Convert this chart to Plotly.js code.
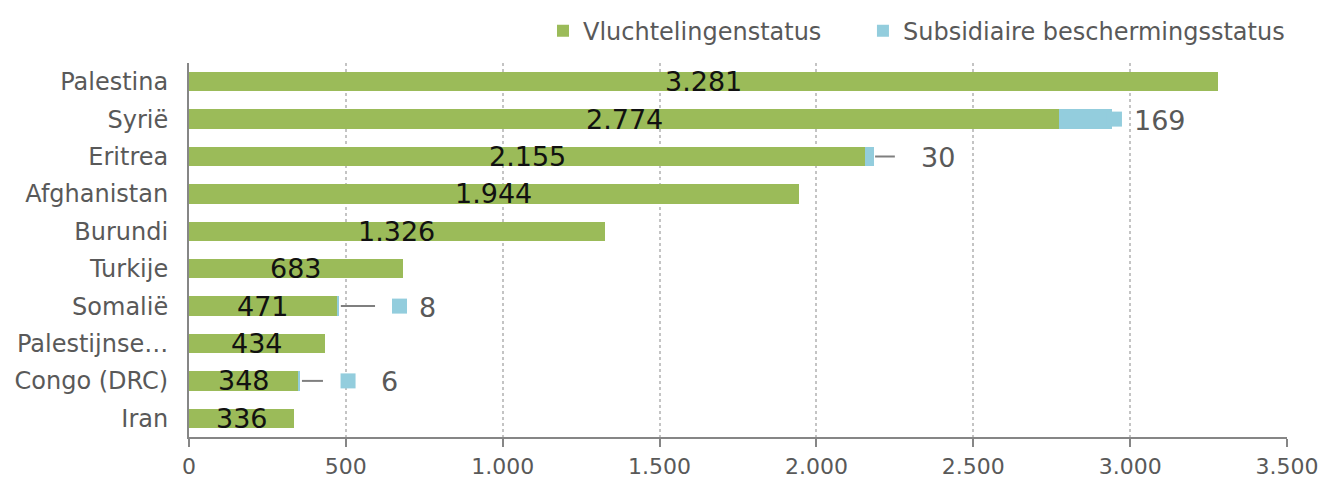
<!DOCTYPE html>
<html>
<head>
<meta charset="utf-8">
<script src="https://cdn.plot.ly/plotly-3.0.1.min.js"></script>
<style>html,body{margin:0;padding:0;background:#fff;}#chart{width:1324px;height:480px;}</style>
</head>
<body>
<div id="chart"></div>
<script>
// ---- data ----
var categories = ["Palestina", "Syrië", "Eritrea", "Afghanistan", "Burundi", "Turkije", "Somalië", "Palestijnse…", "Congo (DRC)", "Iran"];
var vluchtelingenstatus = [3281, 2774, 2155, 1944, 1326, 683, 471, 434, 348, 336];
var subsidiaireStatus = [0, 169, 30, 0, 0, 0, 8, 0, 6, 0];
var seriesNames = ["Vluchtelingenstatus", "Subsidiaire beschermingsstatus"];
var xTickValues = [0, 500, 1000, 1500, 2000, 2500, 3000, 3500];

// ---- styling (label callout placement, in axis units beyond the bar end) ----
var GREEN = "#9BBB59", BLUE = "#93CDDD", GREY = "#595959", AXIS = "#868686";
var FONT = "DejaVu Sans, Verdana, sans-serif";
var calloutOffsets = {
  "Syrië":       {line: null,       key: 7,   label: 152},
  "Eritrea":     {line: [2, 65],    key: null, label: 204},
  "Somalië":     {line: [5, 114],   key: 192, label: 281},
  "Congo (DRC)": {line: [6, 73],    key: 153, label: 285}
};

function fmt(v) { return String(v).replace(/\B(?=(\d{3})+(?!\d))/g, "."); }

var traces = [
  {type: "bar", orientation: "h", name: seriesNames[0], y: categories, x: vluchtelingenstatus,
   marker: {color: GREEN}, hoverinfo: "x+y", legend: "legend"},
  {type: "bar", orientation: "h", name: seriesNames[1], y: categories, x: subsidiaireStatus,
   marker: {color: BLUE}, hoverinfo: "x+y", legend: "legend2"}
];

var annotations = [];
var shapes = [];
var keyX = [], keyY = [];
categories.forEach(function (c, i) {
  annotations.push({x: vluchtelingenstatus[i] / 2, y: c, xref: "x", yref: "y", text: fmt(vluchtelingenstatus[i]),
    showarrow: false, font: {family: FONT, size: 27, color: "#111111"}});
  var o = calloutOffsets[c];
  if (o && subsidiaireStatus[i] > 0) {
    var total = vluchtelingenstatus[i] + subsidiaireStatus[i];
    annotations.push({x: total + o.label, y: c, xref: "x", yref: "y", text: fmt(subsidiaireStatus[i]),
      showarrow: false, yshift: -1, font: {family: FONT, size: 27, color: GREY}});
    if (o.line) {
      shapes.push({type: "line", xref: "x", yref: "y", x0: total + o.line[0], x1: total + o.line[1], y0: i, y1: i,
        line: {color: "#7F7F7F", width: 2}});
    }
    if (o.key !== null) { keyX.push(total + o.key); keyY.push(c); }
  }
});
traces.push({type: "scatter", mode: "markers", x: keyX, y: keyY, showlegend: false, hoverinfo: "skip",
  marker: {symbol: "square", size: 15, color: BLUE, line: {width: 0}}});

var legendStyle = function (x) {
  return {orientation: "h", x: x, xanchor: "left", yref: "container", y: 0.935, yanchor: "middle",
    font: {family: FONT, size: 24, color: GREY}, bgcolor: "rgba(0,0,0,0)", borderwidth: 0};
};

var layout = {
  width: 1324, height: 480,
  margin: {l: 189, r: 37, t: 63, b: 43, pad: 0, autoexpand: false},
  paper_bgcolor: "#ffffff", plot_bgcolor: "#ffffff",
  barmode: "stack", bargap: 0.48,
  separators: ",.",
  font: {family: FONT, size: 24, color: GREY},
  showlegend: true,
  legend: legendStyle(0.3224),
  legend2: legendStyle(0.6138),
  xaxis: {range: [0, 3500], tickvals: xTickValues, separatethousands: true, tickformat: ",d",
    showgrid: true, gridcolor: "#C4C4C4", griddash: "dot", gridwidth: 2,
    zeroline: false, showline: true, linecolor: AXIS, linewidth: 2,
    ticks: "outside", ticklen: 8, tickwidth: 2, tickcolor: AXIS, ticklabelstandoff: 1,
    tickfont: {family: FONT, size: 22, color: GREY}, fixedrange: true, automargin: false},
  yaxis: {type: "category", categoryorder: "array", categoryarray: categories, autorange: "reversed",
    showgrid: false, zeroline: false, showline: true, linecolor: AXIS, linewidth: 2,
    ticks: "", ticklabelstandoff: 14, tickfont: {family: FONT, size: 24, color: GREY}, fixedrange: true, automargin: false},
  annotations: annotations,
  shapes: shapes
};

Plotly.newPlot("chart", traces, layout, {displayModeBar: false, staticPlot: true});
</script>
</body>
</html>
